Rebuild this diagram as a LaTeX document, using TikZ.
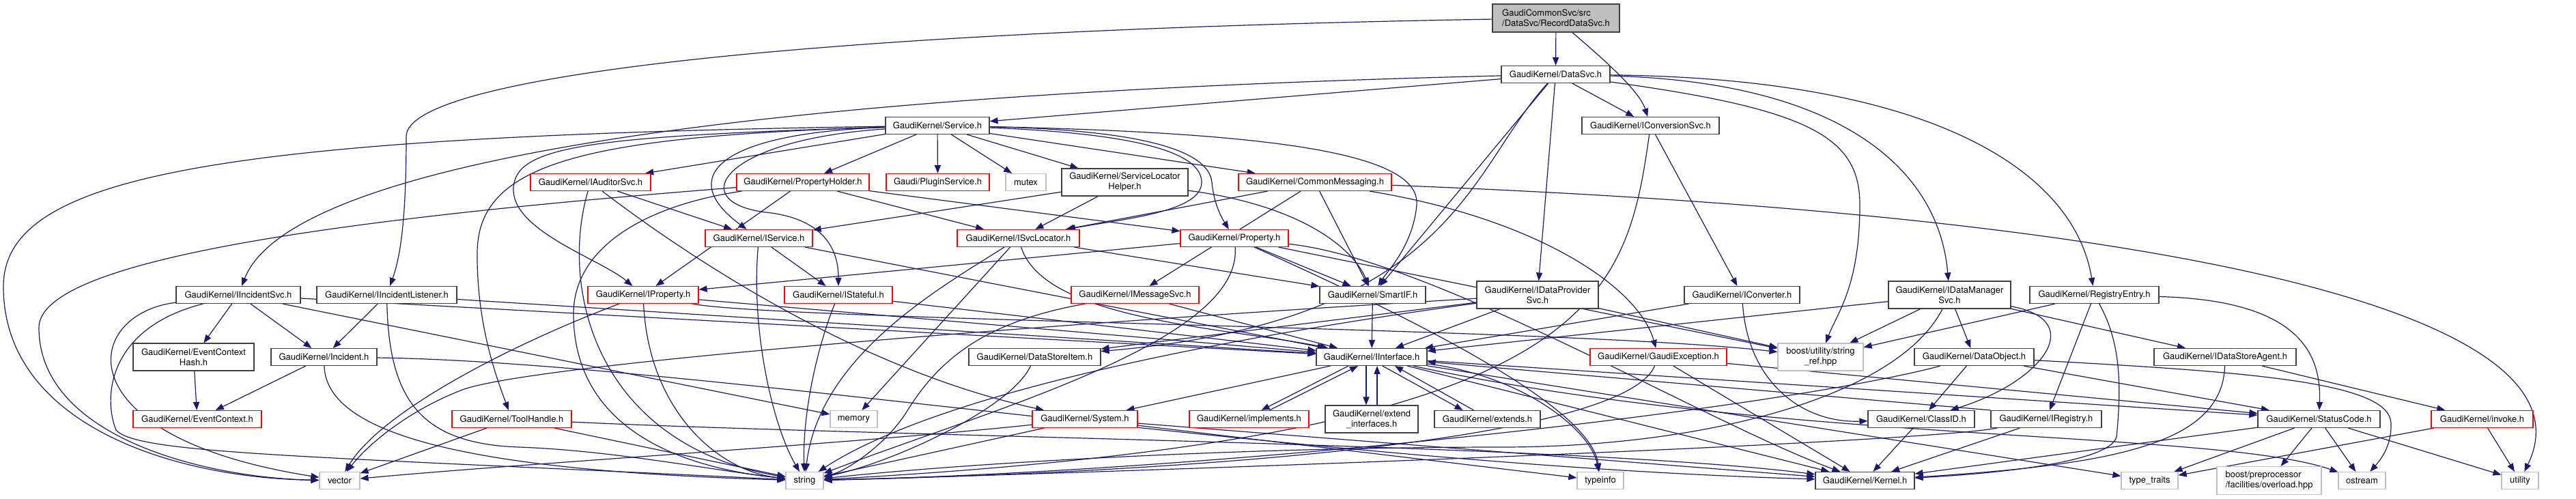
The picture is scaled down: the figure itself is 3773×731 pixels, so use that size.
\documentclass[tikz,border=0pt]{standalone}
\usepackage{fontspec}
\newfontfamily\gkfont{TeX Gyre Heros}
\usetikzlibrary{arrows.meta}
\definecolor{edgeblue}{RGB}{25,25,112}
\pgfdeclarelayer{edges}
\pgfsetlayers{edges,main}
\newcommand\hdr{\gkfont\fontsize{6.5}{7.5}\selectfont}

\begin{document}
\begin{tikzpicture}[x=0.5pt,y=-0.5pt,>={Triangle[length=6pt,width=4.6pt]},
  blk/.style={draw=black!75,fill=white,line width=0.6pt,inner sep=0pt,minimum height=12.5pt,font=\hdr},
  trunc/.style={blk,draw=red},
  ext/.style={blk,draw=black!25},
  dep/.style={draw=edgeblue,line width=0.6pt,->}]
  \useasboundingbox (0,0) rectangle (3773,731);

  \node[blk,fill=black!25,align=left,minimum width=93pt,minimum height=20.5pt] (rec) at (2279,26.5) {GaudiCommonSvc/src\\/DataSvc/RecordDataSvc.h};
  \node[blk,minimum width=79.5pt] (datasvc) at (2278.5,109) {GaudiKernel/DataSvc.h};
  \node[blk,minimum width=76pt] (service) at (1373,184) {GaudiKernel/Service.h};
  \node[blk,minimum width=100.5pt] (iconvsvc) at (2417.5,184) {GaudiKernel/IConversionSvc.h};
  \node[trunc,minimum width=88pt] (iauditor) at (865,267) {GaudiKernel/IAuditorSvc.h};
  \node[trunc,minimum width=97pt] (propholder) at (1176,267) {GaudiKernel/PropertyHolder.h};
  \node[trunc,minimum width=75.5pt] (plugin) at (1373.5,267) {Gaudi/PluginService.h};
  \node[ext,minimum width=29.5pt] (mutex) at (1502.5,267) {mutex};
  \node[blk,align=center,minimum width=92.5pt,minimum height=20pt] (svclochelper) at (1647.5,267) {GaudiKernel/ServiceLocator\\Helper.h};
  \node[trunc,minimum width=112pt] (commonmsg) at (1926,267) {GaudiKernel/CommonMessaging.h};
  \node[trunc,minimum width=78.5pt] (iservice) at (1111.5,349) {GaudiKernel/IService.h};
  \node[trunc,minimum width=89.5pt] (isvcloc) at (1491.5,349) {GaudiKernel/ISvcLocator.h};
  \node[trunc,minimum width=79pt] (property) at (1808,349) {GaudiKernel/Property.h};
  \node[blk,minimum width=91pt] (iincsvc) at (349,432) {GaudiKernel/IIncidentSvc.h};
  \node[blk,minimum width=102.5pt] (iinclistener) at (566.5,432) {GaudiKernel/IIncidentListener.h};
  \node[trunc,minimum width=81pt] (iproperty) at (942,432) {GaudiKernel/IProperty.h};
  \node[trunc,minimum width=79pt] (istateful) at (1228,432) {GaudiKernel/IStateful.h};
  \node[trunc,minimum width=93.5pt] (imsgsvc) at (1662.5,432) {GaudiKernel/IMessageSvc.h};
  \node[blk,minimum width=77.5pt] (smartif) at (2010.5,432) {GaudiKernel/SmartIF.h};
  \node[blk,align=center,minimum width=89pt,minimum height=20pt] (idataprov) at (2252,432) {GaudiKernel/IDataProvider\\Svc.h};
  \node[blk,minimum width=84.5pt] (iconverter) at (2551.5,432) {GaudiKernel/IConverter.h};
  \node[blk,align=center,minimum width=89.5pt,minimum height=20pt] (idatamgr) at (2855.5,432) {GaudiKernel/IDataManager\\Svc.h};
  \node[blk,minimum width=94.5pt] (regentry) at (3067.5,432) {GaudiKernel/RegistryEntry.h};
  \node[blk,align=center,minimum width=88.5pt,minimum height=20pt] (evctxhash) at (283.5,523) {GaudiKernel/EventContext\\Hash.h};
  \node[blk,minimum width=77.5pt] (incident) at (474.5,523) {GaudiKernel/Incident.h};
  \node[blk,minimum width=96.5pt] (datastoreitem) at (1515.5,523) {GaudiKernel/DataStoreItem.h};
  \node[blk,minimum width=81pt] (iinterface) at (2009,523) {GaudiKernel/IInterface.h};
  \node[trunc,minimum width=100pt] (gaudiexc) at (2429,523) {GaudiKernel/GaudiException.h};
  \node[ext,align=center,minimum width=62.5pt,minimum height=20pt] (stringref) at (2666.5,523) {boost/utility/string\\\_ref.hpp};
  \node[blk,minimum width=87.5pt] (dataobject) at (2891.5,523) {GaudiKernel/DataObject.h};
  \node[blk,minimum width=104pt] (idsagent) at (3259,523) {GaudiKernel/IDataStoreAgent.h};
  \node[trunc,minimum width=94pt] (evctx) at (289,614) {GaudiKernel/EventContext.h};
  \node[trunc,minimum width=87.5pt] (toolhandle) at (749.5,614) {GaudiKernel/ToolHandle.h};
  \node[ext,minimum width=34.5pt] (memory) at (1250.5,614) {memory};
  \node[trunc,minimum width=77pt] (system) at (1589,614) {GaudiKernel/System.h};
  \node[trunc,minimum width=87.5pt] (implements) at (1829.5,614) {GaudiKernel/implements.h};
  \node[blk,align=center,minimum width=68pt,minimum height=20pt] (extendif) at (2009,614) {GaudiKernel/extend\\\_interfaces.h};
  \node[blk,minimum width=77.5pt] (extends) at (2178.5,614) {GaudiKernel/extends.h};
  \node[blk,minimum width=78pt] (classid) at (2814,614) {GaudiKernel/ClassID.h};
  \node[blk,minimum width=81pt] (iregistry) at (2997,614) {GaudiKernel/IRegistry.h};
  \node[blk,minimum width=89.5pt] (statuscode) at (3396.5,614) {GaudiKernel/StatusCode.h};
  \node[trunc,minimum width=74.5pt] (invoke) at (3635.5,614) {GaudiKernel/invoke.h};
  \node[ext,minimum width=29.5pt] (vector) at (497.5,704) {vector};
  \node[ext,minimum width=27.5pt] (string) at (1178.5,704) {string};
  \node[ext,minimum width=34pt] (typeinfo) at (2344,704) {typeinfo};
  \node[blk,minimum width=72.5pt] (kernel) at (2731.5,704) {GaudiKernel/Kernel.h};
  \node[ext,minimum width=41.5pt] (typetraits) at (3148.5,704) {type\_traits};
  \node[ext,align=left,minimum width=76.5pt,minimum height=20.5pt] (boostpp) at (3323.5,704) {boost/preprocessor\\/facilities/overload.hpp};
  \node[ext,minimum width=34.5pt] (ostream) at (3459.5,704) {ostream};
  \node[ext,minimum width=27pt] (utility) at (3691,704) {utility};

  \begin{pgfonlayer}{edges}
    \draw[dep] (rec) -- (datasvc);
    \draw[dep] (rec) .. controls (2340,80) and (2400,130) .. (iconvsvc);
    \draw[dep] (rec) .. controls (1200,45) and (595,110) .. (595,200) .. controls (595,330) and (585,380) .. (iinclistener);

    \draw[dep] (datasvc) -- (service);
    \draw[dep] (datasvc) .. controls (1000,140) and (420,250) .. (iincsvc);
    \draw[dep] (datasvc) -- (iconvsvc);
    \draw[dep] (datasvc) -- (smartif);
    \draw[dep] (datasvc) -- (idataprov);
    \draw[dep] (datasvc) .. controls (2700,120) and (2840,250) .. (idatamgr);
    \draw[dep] (datasvc) .. controls (2850,115) and (3040,260) .. (regentry);
    \draw[dep] (datasvc) .. controls (2650,160) and (2724,200) .. (2724,300) .. controls (2724,420) and (2690,460) .. (stringref);
    \draw[dep] (datasvc) .. controls (2150,250) and (2130,470) .. (datastoreitem);

    \draw[dep] (iconvsvc) -- (iconverter);
    \draw[dep] (iconvsvc) .. controls (2380,450) and (2330,640) .. (string);

    \draw[dep] (service) .. controls (300,200) and (5,260) .. (5,420) .. controls (5,620) and (250,700) .. (vector);
    \draw[dep] (service) .. controls (850,200) and (700,240) .. (699,370) .. controls (698,480) and (730,560) .. (toolhandle);
    \draw[dep] (service) -- (iauditor);
    \draw[dep] (service) -- (propholder);
    \draw[dep] (service) -- (plugin);
    \draw[dep] (service) -- (mutex);
    \draw[dep] (service) -- (svclochelper);
    \draw[dep] (service) -- (commonmsg);
    \draw[dep] (service) .. controls (1050,195) and (990,260) .. (iservice);
    \draw[dep] (service) .. controls (850,200) and (750,215) .. (752,280) .. controls (755,340) and (880,380) .. (iproperty);
    \draw[dep] (service) .. controls (1050,205) and (1000,300) .. (1130,312) .. controls (1220,325) and (1228,380) .. (istateful);
    \draw[dep] (service) .. controls (1650,195) and (1760,220) .. (1760,267) .. controls (1760,310) and (1650,320) .. (isvcloc);
    \draw[dep] (service) .. controls (1650,190) and (1770,215) .. (1775,267) .. controls (1778,300) and (1790,320) .. (property);
    \draw[dep] (service) .. controls (1900,195) and (2080,230) .. (2075,300) .. controls (2070,360) and (2030,400) .. (smartif);

    \draw[dep] (iauditor) -- (iservice);
    \draw[dep] (iauditor) .. controls (820,420) and (870,650) .. (string);
    \draw[dep] (iauditor) .. controls (1000,370) and (1250,540) .. (system);

    \draw[dep] (propholder) .. controls (500,320) and (57,380) .. (57,480) .. controls (57,640) and (300,700) .. (vector);
    \draw[dep] (propholder) -- (iproperty);
    \draw[dep] (propholder) .. controls (950,300) and (840,360) .. (840,460) .. controls (840,600) and (950,680) .. (string);
    \draw[dep] (propholder) -- (isvcloc);
    \draw[dep] (propholder) -- (property);

    \draw[dep] (svclochelper) -- (isvcloc);
    \draw[dep] (svclochelper) -- (iservice);
    \draw[dep] (svclochelper) .. controls (1900,300) and (1980,360) .. (smartif);

    \draw[dep] (commonmsg) -- (imsgsvc);
    \draw[dep] (commonmsg) -- (isvcloc);
    \draw[dep] (commonmsg) -- (smartif);
    \draw[dep] (commonmsg) .. controls (2250,320) and (2400,420) .. (gaudiexc);
    \draw[dep] (commonmsg) .. controls (3300,320) and (3800,480) .. (utility);

    \draw[dep] (iservice) -- (istateful);
    \draw[dep] (iservice) -- (iinterface);
    \draw[dep] (iservice) .. controls (1100,480) and (1130,620) .. (string);

    \draw[dep] (isvcloc) .. controls (1530,470) and (1800,480) .. (iinterface);
    \draw[dep] (isvcloc) -- (smartif);
    \draw[dep] (isvcloc) .. controls (1380,420) and (1200,520) .. (string);
    \draw[dep] (isvcloc) -- (memory);

    \draw[dep] (property) -- (iproperty);
    \draw[dep] (property) -- (smartif);
    \draw[dep] (property) .. controls (2100,380) and (2500,620) .. (kernel);
    \draw[dep] (property) .. controls (1820,500) and (1450,600) .. (string);
    \draw[dep] (property) -- (stringref);
    \draw[dep] (property) .. controls (2100,480) and (2330,600) .. (typeinfo);

    \draw[dep] (iincsvc) -- (evctxhash);
    \draw[dep] (iincsvc) -- (incident);
    \draw[dep] (iincsvc) .. controls (120,460) and (90,640) .. (vector);
    \draw[dep] (iincsvc) .. controls (160,480) and (150,580) .. (170,630) .. controls (200,665) and (450,668) .. (string);
    \draw[dep] (iincsvc) -- (iinterface);
    \draw[dep] (iincsvc) -- (memory);

    \draw[dep] (iinclistener) -- (incident);
    \draw[dep] (iinclistener) -- (iinterface);
    \draw[dep] (iinclistener) .. controls (570,590) and (620,650) .. (760,655) .. controls (900,660) and (1050,690) .. (string);

    \draw[dep] (iproperty) .. controls (760,500) and (560,600) .. (vector);
    \draw[dep] (iproperty) .. controls (950,600) and (1050,690) .. (string);
    \draw[dep] (iproperty) -- (iinterface);
    \draw[dep] (iproperty) .. controls (1150,470) and (2300,480) .. (stringref);

    \draw[dep] (istateful) -- (iinterface);
    \draw[dep] (istateful) .. controls (1200,500) and (1175,600) .. (string);

    \draw[dep] (imsgsvc) -- (iinterface);
    \draw[dep] (imsgsvc) .. controls (1450,470) and (1380,520) .. (1330,600) .. controls (1300,650) and (1240,690) .. (string);

    \draw[dep] (smartif) -- (iinterface);

    \draw[dep] (idataprov) -- (iinterface);
    \draw[dep] (idataprov) .. controls (1900,480) and (1400,560) .. (string);
    \draw[dep] (idataprov) .. controls (1600,470) and (800,530) .. (680,570) .. controls (600,600) and (540,650) .. (vector);
    \draw[dep] (idataprov) -- (datastoreitem);
    \draw[dep] (idataprov) -- (stringref);

    \draw[dep] (iconverter) -- (iinterface);
    \draw[dep] (iconverter) .. controls (2560,560) and (2640,620) .. (classid);

    \draw[dep] (idatamgr) -- (stringref);
    \draw[dep] (idatamgr) -- (dataobject);
    \draw[dep] (idatamgr) .. controls (3060,470) and (2990,560) .. (classid);
    \draw[dep] (idatamgr) -- (iinterface);
    \draw[dep] (idatamgr) .. controls (2780,580) and (2500,655) .. (2200,655) .. controls (1800,655) and (1400,680) .. (string);
    \draw[dep] (idatamgr) -- (idsagent);

    \draw[dep] (regentry) -- (iregistry);
    \draw[dep] (regentry) .. controls (3105,500) and (3108,560) .. (3100,640) .. controls (3090,680) and (2900,695) .. (kernel);
    \draw[dep] (regentry) -- (stringref);
    \draw[dep] (regentry) .. controls (3370,440) and (3400,520) .. (statuscode);

    \draw[dep] (evctxhash) -- (evctx);
    \draw[dep] (incident) -- (evctx);
    \draw[dep] (incident) .. controls (478,640) and (700,690) .. (string);
    \draw[dep] (incident) .. controls (1000,530) and (1900,680) .. (kernel);

    \draw[dep] (datastoreitem) .. controls (1480,600) and (1300,680) .. (string);

    \draw[dep] ([xshift=-4pt]iinterface.south) -- ([xshift=-4pt]extendif.north);
    \draw[dep] ([xshift=4pt]extendif.north) -- ([xshift=4pt]iinterface.south);
    \draw[dep] ([xshift=8pt]iinterface.south) -- ([xshift=-18pt]extends.north);
    \draw[dep] ([xshift=-10pt]extends.north) -- ([xshift=17pt]iinterface.south);
    \draw[dep] ([xshift=-17pt]iinterface.south) -- ([xshift=9pt]implements.north);
    \draw[dep] ([xshift=15pt]implements.north) -- ([xshift=-10pt]iinterface.south);
    \draw[dep] (iinterface) -- (system);
    \draw[dep] (iinterface) -- (kernel);
    \draw[dep] (iinterface) -- (statuscode);
    \draw[dep] (iinterface) .. controls (2230,550) and (2330,630) .. (typeinfo);
    \draw[dep] (iinterface) .. controls (2600,650) and (3250,630) .. (ostream);
    \draw[dep] (iinterface) -- (typetraits);

    \draw[dep] (gaudiexc) .. controls (2380,640) and (1800,690) .. (string);
    \draw[dep] (gaudiexc) -- (kernel);
    \draw[dep] (gaudiexc) -- (statuscode);

    \draw[dep] (dataobject) -- (classid);
    \draw[dep] (dataobject) -- (statuscode);
    \draw[dep] (dataobject) .. controls (2600,600) and (1800,690) .. (string);
    \draw[dep] (dataobject) .. controls (3300,545) and (3500,560) .. (3502,620) .. controls (3503,650) and (3490,670) .. (ostream);

    \draw[dep] (idsagent) .. controls (3255,650) and (3100,680) .. (kernel);
    \draw[dep] (idsagent) -- (invoke);

    \draw[dep] (toolhandle) -- (vector);
    \draw[dep] (toolhandle) -- (string);
    \draw[dep] (toolhandle) .. controls (1300,640) and (2300,650) .. (kernel);

    \draw[dep] (system) -- (string);
    \draw[dep] (system) .. controls (1250,650) and (750,680) .. (vector);
    \draw[dep] (system) -- (kernel);
    \draw[dep] (system) -- (typeinfo);

    \draw[dep] (classid) -- (kernel);
    \draw[dep] (iregistry) -- (kernel);
    \draw[dep] (iregistry) .. controls (2800,650) and (1700,690) .. (string);
    \draw[dep] (iregistry.north west) -- (iinterface);

    \draw[dep] (statuscode) -- (kernel);
    \draw[dep] (statuscode) -- (typetraits);
    \draw[dep] (statuscode) -- (boostpp);
    \draw[dep] (statuscode) -- (ostream);
    \draw[dep] (statuscode) -- (utility);

    \draw[dep] (invoke) -- (utility);
    \draw[dep] (invoke) -- (typetraits);
  \end{pgfonlayer}
\end{tikzpicture}
\end{document}
